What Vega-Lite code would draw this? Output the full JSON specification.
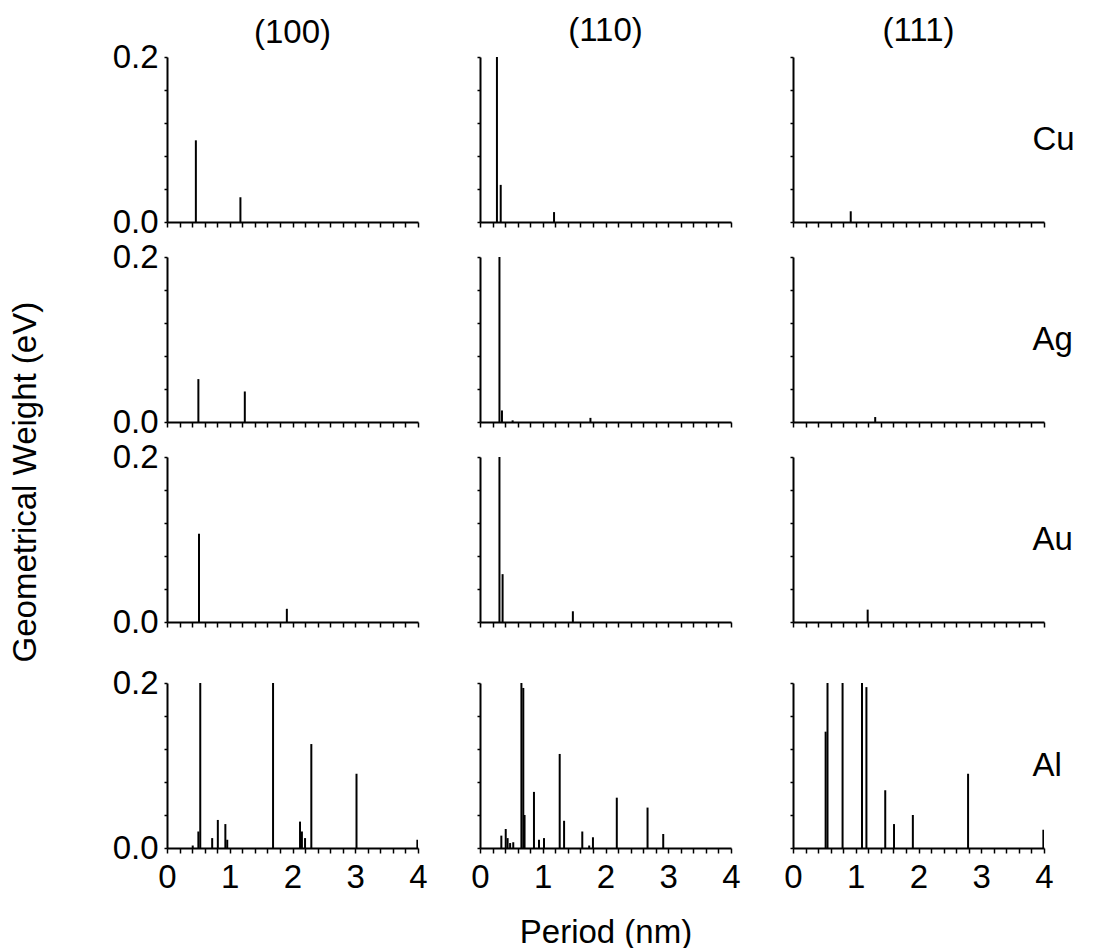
{
  "$schema": "https://vega.github.io/schema/vega-lite/v6.json",
  "background": "white",
  "padding": {"left": 10, "top": 15, "right": 5, "bottom": 5},
  "title": {"text": "Geometrical Weight (eV)", "orient": "left", "anchor": "middle", "fontSize": 33, "fontWeight": "normal", "font": "Liberation Sans", "offset": 69},
  "datasets": {
    "g": [
      {"m": "Cu", "f": "(100)", "p": 0.46, "w": 0.099},
      {"m": "Cu", "f": "(100)", "p": 1.17, "w": 0.030},
      {"m": "Cu", "f": "(110)", "p": 0.27, "w": 0.25},
      {"m": "Cu", "f": "(110)", "p": 0.33, "w": 0.045},
      {"m": "Cu", "f": "(110)", "p": 1.18, "w": 0.012},
      {"m": "Cu", "f": "(111)", "p": 0.92, "w": 0.013},
      {"m": "Ag", "f": "(100)", "p": 0.50, "w": 0.052},
      {"m": "Ag", "f": "(100)", "p": 1.24, "w": 0.037},
      {"m": "Ag", "f": "(110)", "p": 0.31, "w": 0.25},
      {"m": "Ag", "f": "(110)", "p": 0.35, "w": 0.014},
      {"m": "Ag", "f": "(110)", "p": 0.52, "w": 0.002},
      {"m": "Ag", "f": "(110)", "p": 1.76, "w": 0.005},
      {"m": "Ag", "f": "(111)", "p": 1.31, "w": 0.006},
      {"m": "Au", "f": "(100)", "p": 0.51, "w": 0.107},
      {"m": "Au", "f": "(100)", "p": 1.91, "w": 0.016},
      {"m": "Au", "f": "(110)", "p": 0.31, "w": 0.25},
      {"m": "Au", "f": "(110)", "p": 0.36, "w": 0.058},
      {"m": "Au", "f": "(110)", "p": 1.48, "w": 0.013},
      {"m": "Au", "f": "(111)", "p": 1.19, "w": 0.015},
      {"m": "Al", "f": "(100)", "p": 0.41, "w": 0.003},
      {"m": "Al", "f": "(100)", "p": 0.50, "w": 0.020},
      {"m": "Al", "f": "(100)", "p": 0.53, "w": 0.25},
      {"m": "Al", "f": "(100)", "p": 0.72, "w": 0.012},
      {"m": "Al", "f": "(100)", "p": 0.81, "w": 0.034},
      {"m": "Al", "f": "(100)", "p": 0.93, "w": 0.029},
      {"m": "Al", "f": "(100)", "p": 0.96, "w": 0.010},
      {"m": "Al", "f": "(100)", "p": 1.69, "w": 0.25},
      {"m": "Al", "f": "(100)", "p": 2.12, "w": 0.032},
      {"m": "Al", "f": "(100)", "p": 2.15, "w": 0.020},
      {"m": "Al", "f": "(100)", "p": 2.20, "w": 0.012},
      {"m": "Al", "f": "(100)", "p": 2.30, "w": 0.126},
      {"m": "Al", "f": "(100)", "p": 3.02, "w": 0.090},
      {"m": "Al", "f": "(100)", "p": 3.99, "w": 0.010},
      {"m": "Al", "f": "(110)", "p": 0.34, "w": 0.015},
      {"m": "Al", "f": "(110)", "p": 0.41, "w": 0.023},
      {"m": "Al", "f": "(110)", "p": 0.44, "w": 0.012},
      {"m": "Al", "f": "(110)", "p": 0.48, "w": 0.006},
      {"m": "Al", "f": "(110)", "p": 0.53, "w": 0.007},
      {"m": "Al", "f": "(110)", "p": 0.66, "w": 0.25},
      {"m": "Al", "f": "(110)", "p": 0.69, "w": 0.194},
      {"m": "Al", "f": "(110)", "p": 0.71, "w": 0.040},
      {"m": "Al", "f": "(110)", "p": 0.86, "w": 0.068},
      {"m": "Al", "f": "(110)", "p": 0.94, "w": 0.010},
      {"m": "Al", "f": "(110)", "p": 1.02, "w": 0.012},
      {"m": "Al", "f": "(110)", "p": 1.27, "w": 0.114},
      {"m": "Al", "f": "(110)", "p": 1.34, "w": 0.033},
      {"m": "Al", "f": "(110)", "p": 1.63, "w": 0.020},
      {"m": "Al", "f": "(110)", "p": 1.74, "w": 0.003},
      {"m": "Al", "f": "(110)", "p": 1.80, "w": 0.013},
      {"m": "Al", "f": "(110)", "p": 2.18, "w": 0.061},
      {"m": "Al", "f": "(110)", "p": 2.67, "w": 0.049},
      {"m": "Al", "f": "(110)", "p": 2.92, "w": 0.017},
      {"m": "Al", "f": "(111)", "p": 0.52, "w": 0.141},
      {"m": "Al", "f": "(111)", "p": 0.55, "w": 0.25},
      {"m": "Al", "f": "(111)", "p": 0.79, "w": 0.25},
      {"m": "Al", "f": "(111)", "p": 1.10, "w": 0.25},
      {"m": "Al", "f": "(111)", "p": 1.17, "w": 0.195},
      {"m": "Al", "f": "(111)", "p": 1.47, "w": 0.070},
      {"m": "Al", "f": "(111)", "p": 1.61, "w": 0.029},
      {"m": "Al", "f": "(111)", "p": 1.91, "w": 0.040},
      {"m": "Al", "f": "(111)", "p": 2.79, "w": 0.090},
      {"m": "Al", "f": "(111)", "p": 3.99, "w": 0.022}
    ]
  },
  "data": {"name": "g"},
  "columns": 3,
  "align": {"row": "each", "column": "all"},
  "spacing": {"row": 2, "column": 21},
  "concat": [
      {"title": {"text": "(100)", "offset": -9}, "width": 251, "height": 165, "transform": [{"filter": "datum.m=='Cu' && datum.f=='(100)'"}], "mark": {"type": "rule", "clip": true, "strokeWidth": 2}, "encoding": {"x": {"field": "p", "type": "quantitative", "scale": {"domain": [0, 4]}, "axis": {"labels": false, "title": null, "values": [0,0.2,0.4,0.6,0.8,1,1.2,1.4,1.6,1.8,2,2.2,2.4,2.6,2.8,3,3.2,3.4,3.6,3.8,4]}}, "y": {"field": "w", "type": "quantitative", "scale": {"domain": [0, 0.2]}, "axis": {"title": null, "values": [0,0.04,0.08,0.12,0.16,0.2], "labelExpr": "datum.value==0 ? '0.0' : (datum.value>0.19 ? '0.2' : '')"}}, "y2": {"datum": 0}}},
      {"title": "(110)", "width": 251, "height": 165, "transform": [{"filter": "datum.m=='Cu' && datum.f=='(110)'"}], "mark": {"type": "rule", "clip": true, "strokeWidth": 2}, "encoding": {"x": {"field": "p", "type": "quantitative", "scale": {"domain": [0, 4]}, "axis": {"labels": false, "title": null, "values": [0,0.2,0.4,0.6,0.8,1,1.2,1.4,1.6,1.8,2,2.2,2.4,2.6,2.8,3,3.2,3.4,3.6,3.8,4]}}, "y": {"field": "w", "type": "quantitative", "scale": {"domain": [0, 0.2]}, "axis": {"title": null, "labels": false, "values": [0,0.04,0.08,0.12,0.16,0.2]}}, "y2": {"datum": 0}}},
      {"title": "(111)", "width": 251, "height": 165, "transform": [{"filter": "datum.m=='Cu' && datum.f=='(111)'"}], "layer": [
        {"mark": {"type": "rule", "clip": true, "strokeWidth": 2}, "encoding": {"x": {"field": "p", "type": "quantitative", "scale": {"domain": [0, 4]}, "axis": {"labels": false, "title": null, "values": [0,0.2,0.4,0.6,0.8,1,1.2,1.4,1.6,1.8,2,2.2,2.4,2.6,2.8,3,3.2,3.4,3.6,3.8,4]}}, "y": {"field": "w", "type": "quantitative", "scale": {"domain": [0, 0.2]}, "axis": {"title": null, "labels": false, "values": [0,0.04,0.08,0.12,0.16,0.2]}}, "y2": {"datum": 0}}},
        {"mark": {"type": "rule", "opacity": 0}, "encoding": {"y": {"field": "w", "type": "quantitative", "axis": {"orient": "right", "title": "Cu", "titleAngle": 0, "titleAlign": "left", "titleBaseline": "middle", "domain": false, "ticks": false, "labels": false, "titlePadding": -12}}}}
      ], "resolve": {"axis": {"y": "independent"}}},
      {"width": 251, "height": 165, "transform": [{"filter": "datum.m=='Ag' && datum.f=='(100)'"}], "mark": {"type": "rule", "clip": true, "strokeWidth": 2}, "encoding": {"x": {"field": "p", "type": "quantitative", "scale": {"domain": [0, 4]}, "axis": {"labels": false, "title": null, "values": [0,0.2,0.4,0.6,0.8,1,1.2,1.4,1.6,1.8,2,2.2,2.4,2.6,2.8,3,3.2,3.4,3.6,3.8,4]}}, "y": {"field": "w", "type": "quantitative", "scale": {"domain": [0, 0.2]}, "axis": {"title": null, "values": [0,0.04,0.08,0.12,0.16,0.2], "labelExpr": "datum.value==0 ? '0.0' : (datum.value>0.19 ? '0.2' : '')"}}, "y2": {"datum": 0}}},
      {"width": 251, "height": 165, "transform": [{"filter": "datum.m=='Ag' && datum.f=='(110)'"}], "mark": {"type": "rule", "clip": true, "strokeWidth": 2}, "encoding": {"x": {"field": "p", "type": "quantitative", "scale": {"domain": [0, 4]}, "axis": {"labels": false, "title": null, "values": [0,0.2,0.4,0.6,0.8,1,1.2,1.4,1.6,1.8,2,2.2,2.4,2.6,2.8,3,3.2,3.4,3.6,3.8,4]}}, "y": {"field": "w", "type": "quantitative", "scale": {"domain": [0, 0.2]}, "axis": {"title": null, "labels": false, "values": [0,0.04,0.08,0.12,0.16,0.2]}}, "y2": {"datum": 0}}},
      {"width": 251, "height": 165, "transform": [{"filter": "datum.m=='Ag' && datum.f=='(111)'"}], "layer": [
        {"mark": {"type": "rule", "clip": true, "strokeWidth": 2}, "encoding": {"x": {"field": "p", "type": "quantitative", "scale": {"domain": [0, 4]}, "axis": {"labels": false, "title": null, "values": [0,0.2,0.4,0.6,0.8,1,1.2,1.4,1.6,1.8,2,2.2,2.4,2.6,2.8,3,3.2,3.4,3.6,3.8,4]}}, "y": {"field": "w", "type": "quantitative", "scale": {"domain": [0, 0.2]}, "axis": {"title": null, "labels": false, "values": [0,0.04,0.08,0.12,0.16,0.2]}}, "y2": {"datum": 0}}},
        {"mark": {"type": "rule", "opacity": 0}, "encoding": {"y": {"field": "w", "type": "quantitative", "axis": {"orient": "right", "title": "Ag", "titleAngle": 0, "titleAlign": "left", "titleBaseline": "middle", "domain": false, "ticks": false, "labels": false, "titlePadding": -12}}}}
      ], "resolve": {"axis": {"y": "independent"}}},
      {"width": 251, "height": 165, "transform": [{"filter": "datum.m=='Au' && datum.f=='(100)'"}], "mark": {"type": "rule", "clip": true, "strokeWidth": 2}, "encoding": {"x": {"field": "p", "type": "quantitative", "scale": {"domain": [0, 4]}, "axis": {"labels": false, "title": null, "values": [0,0.2,0.4,0.6,0.8,1,1.2,1.4,1.6,1.8,2,2.2,2.4,2.6,2.8,3,3.2,3.4,3.6,3.8,4]}}, "y": {"field": "w", "type": "quantitative", "scale": {"domain": [0, 0.2]}, "axis": {"title": null, "values": [0,0.04,0.08,0.12,0.16,0.2], "labelExpr": "datum.value==0 ? '0.0' : (datum.value>0.19 ? '0.2' : '')"}}, "y2": {"datum": 0}}},
      {"width": 251, "height": 165, "transform": [{"filter": "datum.m=='Au' && datum.f=='(110)'"}], "mark": {"type": "rule", "clip": true, "strokeWidth": 2}, "encoding": {"x": {"field": "p", "type": "quantitative", "scale": {"domain": [0, 4]}, "axis": {"labels": false, "title": null, "values": [0,0.2,0.4,0.6,0.8,1,1.2,1.4,1.6,1.8,2,2.2,2.4,2.6,2.8,3,3.2,3.4,3.6,3.8,4]}}, "y": {"field": "w", "type": "quantitative", "scale": {"domain": [0, 0.2]}, "axis": {"title": null, "labels": false, "values": [0,0.04,0.08,0.12,0.16,0.2]}}, "y2": {"datum": 0}}},
      {"width": 251, "height": 165, "transform": [{"filter": "datum.m=='Au' && datum.f=='(111)'"}], "layer": [
        {"mark": {"type": "rule", "clip": true, "strokeWidth": 2}, "encoding": {"x": {"field": "p", "type": "quantitative", "scale": {"domain": [0, 4]}, "axis": {"labels": false, "title": null, "values": [0,0.2,0.4,0.6,0.8,1,1.2,1.4,1.6,1.8,2,2.2,2.4,2.6,2.8,3,3.2,3.4,3.6,3.8,4]}}, "y": {"field": "w", "type": "quantitative", "scale": {"domain": [0, 0.2]}, "axis": {"title": null, "labels": false, "values": [0,0.04,0.08,0.12,0.16,0.2]}}, "y2": {"datum": 0}}},
        {"mark": {"type": "rule", "opacity": 0}, "encoding": {"y": {"field": "w", "type": "quantitative", "axis": {"orient": "right", "title": "Au", "titleAngle": 0, "titleAlign": "left", "titleBaseline": "middle", "domain": false, "ticks": false, "labels": false, "titlePadding": -12}}}}
      ], "resolve": {"axis": {"y": "independent"}}},
      {"width": 251, "height": 165, "transform": [{"filter": "datum.m=='Al' && datum.f=='(100)'"}], "mark": {"type": "rule", "clip": true, "strokeWidth": 2}, "encoding": {"x": {"field": "p", "type": "quantitative", "scale": {"domain": [0, 4]}, "axis": {"title": null, "values": [0,0.2,0.4,0.6,0.8,1,1.2,1.4,1.6,1.8,2,2.2,2.4,2.6,2.8,3,3.2,3.4,3.6,3.8,4], "labelExpr": "abs(datum.value-round(datum.value))<0.01 ? format(datum.value,'d') : ''"}}, "y": {"field": "w", "type": "quantitative", "scale": {"domain": [0, 0.2]}, "axis": {"title": null, "values": [0,0.04,0.08,0.12,0.16,0.2], "labelExpr": "datum.value==0 ? '0.0' : (datum.value>0.19 ? '0.2' : '')"}}, "y2": {"datum": 0}}},
      {"width": 251, "height": 165, "transform": [{"filter": "datum.m=='Al' && datum.f=='(110)'"}], "mark": {"type": "rule", "clip": true, "strokeWidth": 2}, "encoding": {"x": {"field": "p", "type": "quantitative", "scale": {"domain": [0, 4]}, "axis": {"title": "Period (nm)", "titlePadding": 22, "values": [0,0.2,0.4,0.6,0.8,1,1.2,1.4,1.6,1.8,2,2.2,2.4,2.6,2.8,3,3.2,3.4,3.6,3.8,4], "labelExpr": "abs(datum.value-round(datum.value))<0.01 ? format(datum.value,'d') : ''"}}, "y": {"field": "w", "type": "quantitative", "scale": {"domain": [0, 0.2]}, "axis": {"title": null, "labels": false, "values": [0,0.04,0.08,0.12,0.16,0.2]}}, "y2": {"datum": 0}}},
      {"width": 251, "height": 165, "transform": [{"filter": "datum.m=='Al' && datum.f=='(111)'"}], "layer": [
        {"mark": {"type": "rule", "clip": true, "strokeWidth": 2}, "encoding": {"x": {"field": "p", "type": "quantitative", "scale": {"domain": [0, 4]}, "axis": {"title": null, "values": [0,0.2,0.4,0.6,0.8,1,1.2,1.4,1.6,1.8,2,2.2,2.4,2.6,2.8,3,3.2,3.4,3.6,3.8,4], "labelExpr": "abs(datum.value-round(datum.value))<0.01 ? format(datum.value,'d') : ''"}}, "y": {"field": "w", "type": "quantitative", "scale": {"domain": [0, 0.2]}, "axis": {"title": null, "labels": false, "values": [0,0.04,0.08,0.12,0.16,0.2]}}, "y2": {"datum": 0}}},
        {"mark": {"type": "rule", "opacity": 0}, "encoding": {"y": {"field": "w", "type": "quantitative", "axis": {"orient": "right", "title": "Al", "titleAngle": 0, "titleAlign": "left", "titleBaseline": "middle", "domain": false, "ticks": false, "labels": false, "titlePadding": -12}}}}
      ], "resolve": {"axis": {"y": "independent"}}}
  ],
  "config": {
    "font": "Liberation Sans",
    "view": {"stroke": null},
    "title": {"fontSize": 33, "fontWeight": "normal", "font": "Liberation Sans", "offset": 8},
    "axis": {"grid": false, "domainColor": "black", "domainWidth": 2, "tickColor": "black", "tickWidth": 1.5, "tickSize": 5, "labelFontSize": 33, "labelColor": "black", "labelFont": "Liberation Sans", "titleFontSize": 33, "titleFontWeight": "normal", "titleColor": "black", "titleFont": "Liberation Sans", "labelPadding": 8, "labelFlush": false, "labelOverlap": false},
    "axisY": {"tickSize": 3, "labelPadding": 6}
  }
}
